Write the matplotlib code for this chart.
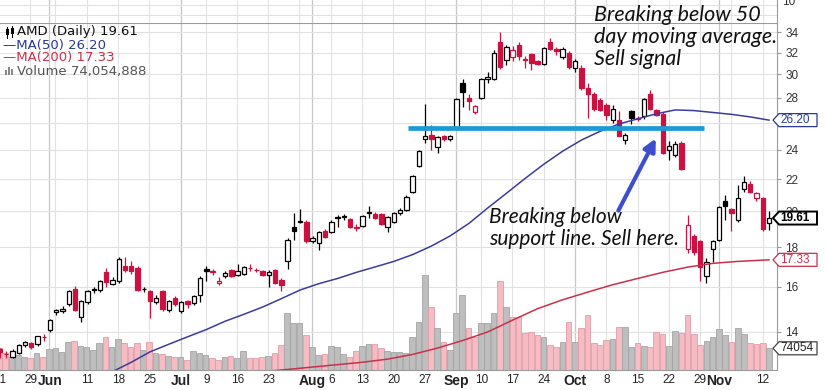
import numpy as np
import matplotlib
matplotlib.use('Agg')
import matplotlib.pyplot as plt
from matplotlib.patches import Polygon
from matplotlib.lines import Line2D
from matplotlib import font_manager

# daily bars, 2018-05-21 .. 2018-11-13 (index = trading day)
opens = [13.3, 13.12, 13.0, 13.15, 13.47, 13.55, 13.5, 13.8, 14.1, 14.85,
         14.9, 15.2, 15.9, 14.65, 15.3, 15.9, 15.85, 16.7, 16.15, 16.3,
         17.0, 17.0, 16.9, 15.9, 15.8, 15.3, 15.8, 14.95, 15.5, 14.9,
         15.35, 15.25, 15.6, 16.85, 16.75, 16.2, 16.5, 16.8, 16.55, 16.6,
         16.92, 16.82, 16.75, 16.55, 16.8, 16.35, 17.25, 19.1, 19.45, 19.4,
         18.3, 18.2, 18.9, 18.8, 19.65, 19.75, 19.55, 19.08, 19.15, 19.95,
         19.85, 19.85, 19.1, 19.4, 19.9, 20.1, 21.2, 22.9, 24.8, 25.1,
         24.2, 25.0, 24.75, 25.6, 29.2, 28.0, 26.8, 28.0, 29.6, 29.6,
         33.0, 31.3, 31.6, 32.7, 31.4, 31.9, 31.2, 30.9, 33.0, 32.3,
         31.6, 32.0, 30.6, 30.6, 28.8, 28.3, 27.8, 27.4, 26.2, 26.2,
         24.7, 26.9, 26.4, 26.5, 28.3, 27.0, 26.7, 24.0, 23.6, 24.5,
         17.9, 18.6, 18.3, 16.5, 17.9, 18.4, 20.6, 20.15, 19.5, 21.4,
         21.7, 20.8, 20.8, 19.3]
highs = [13.35, 13.25, 13.3, 13.5, 13.65, 13.6, 13.85, 13.9, 14.55, 15.0,
         15.1, 15.85, 16.05, 15.4, 15.85, 16.0, 16.35, 16.9, 16.45, 17.5,
         17.45, 17.25, 17.0, 16.0, 15.85, 15.6, 15.85, 15.4, 15.55, 15.35,
         15.4, 15.6, 16.5, 17.0, 16.85, 16.45, 16.75, 16.85, 17.1, 17.0,
         17.1, 16.9, 16.8, 16.8, 16.85, 16.4, 18.5, 19.9, 20.15, 19.5,
         18.6, 18.9, 19.0, 19.5, 19.8, 19.85, 19.6, 19.25, 19.8, 20.3,
         19.95, 19.9, 19.75, 19.95, 20.2, 21.0, 22.3, 24.0, 27.5, 25.8,
         25.0, 25.1, 25.1, 28.0, 29.6, 28.3, 27.4, 29.7, 30.2, 32.2,
         34.0, 32.7, 32.6, 33.0, 31.7, 32.0, 31.3, 32.5, 33.4, 32.5,
         32.5, 32.1, 31.4, 30.8, 29.2, 28.5, 28.0, 27.6, 27.4, 26.9,
         25.2, 27.0, 26.5, 28.0, 28.6, 27.1, 26.8, 24.6, 24.6, 24.6,
         19.8, 18.7, 18.4, 17.4, 18.4, 20.3, 21.0, 20.2, 21.6, 22.2,
         21.9, 21.2, 20.9, 20.0]
lows = [12.95, 12.95, 12.95, 13.1, 13.4, 13.3, 13.45, 13.65, 14.0, 14.7,
        14.8, 15.1, 14.9, 14.4, 15.2, 15.7, 15.75, 16.0, 16.1, 16.2,
        16.7, 16.6, 15.8, 15.75, 14.6, 15.2, 14.9, 14.85, 15.1, 14.8,
        15.05, 15.15, 15.3, 16.3, 16.55, 16.1, 16.4, 16.45, 16.5, 16.55,
        16.75, 16.7, 16.5, 16.0, 16.15, 15.8, 16.85, 18.4, 19.3, 18.2,
        18.2, 17.85, 18.5, 18.75, 19.1, 19.5, 19.05, 18.9, 19.1, 19.6,
        19.55, 19.2, 18.8, 19.35, 19.8, 20.0, 21.1, 22.8, 24.5, 24.0,
        23.8, 24.6, 24.6, 25.5, 27.2, 27.0, 26.7, 27.9, 29.2, 29.5,
        30.5, 30.8, 31.2, 31.3, 30.6, 30.4, 30.8, 30.8, 32.2, 31.8,
        31.4, 30.5, 30.2, 28.6, 26.4, 26.9, 26.9, 26.2, 26.0, 25.0,
        24.4, 25.9, 26.1, 26.3, 27.0, 26.5, 23.7, 23.3, 23.5, 22.6,
        17.7, 17.6, 16.3, 16.2, 17.2, 18.3, 19.5, 18.9, 19.4, 21.2,
        21.1, 20.6, 18.9, 18.95]
closes = [13.2, 13.1, 13.22, 13.47, 13.6, 13.38, 13.82, 13.78, 14.5, 14.93,
          14.98, 15.8, 14.95, 15.35, 15.8, 15.85, 16.3, 16.25, 16.35, 17.35,
          16.8, 16.75, 15.85, 15.88, 15.35, 15.5, 15.0, 15.35, 15.2, 15.3,
          15.2, 15.55, 16.4, 16.75, 16.7, 16.3, 16.68, 16.5, 16.75, 16.95,
          16.9, 16.8, 16.55, 16.7, 16.2, 16.1, 18.4, 18.9, 19.4, 18.3,
          18.5, 18.8, 18.55, 19.4, 19.6, 19.65, 19.1, 19.05, 19.75, 19.9,
          19.6, 19.25, 19.7, 19.9, 20.1, 20.9, 22.2, 23.9, 25.0, 24.8,
          24.9, 24.75, 25.0, 27.9, 28.5, 27.7, 27.3, 29.6, 29.8, 32.0,
          30.7, 32.5, 32.2, 31.7, 31.3, 31.0, 30.95, 32.4, 32.35, 32.1,
          32.3, 30.7, 31.2, 28.8, 28.3, 27.1, 27.0, 26.6, 27.1, 25.0,
          25.1, 26.4, 26.3, 27.9, 27.1, 26.6, 23.8, 24.3, 24.4, 22.7,
          19.2, 17.75, 16.95, 17.2, 18.3, 20.25, 20.3, 19.9, 20.8, 21.8,
          21.2, 21.1, 19.0, 19.61]
close_before = 13.35
# volume in millions of shares
volumes = [75, 58, 44, 51, 44, 41, 58, 44, 72, 75,
           61, 95, 99, 82, 78, 68, 92, 113, 78, 106,
           92, 78, 92, 68, 95, 58, 55, 48, 44, 44,
           34, 65, 58, 51, 41, 34, 44, 48, 41, 65,
           41, 41, 44, 48, 58, 85, 194, 160, 160, 119,
           78, 51, 55, 82, 78, 55, 44, 65, 82, 89,
           89, 75, 65, 61, 61, 58, 113, 164, 324, 215,
           143, 95, 68, 194, 256, 143, 113, 160, 160, 194,
           303, 215, 181, 181, 126, 130, 119, 113, 85, 78,
           95, 164, 95, 143, 188, 92, 85, 102, 106, 147,
           147, 78, 92, 82, 78, 130, 123, 82, 133, 126,
           188, 123, 85, 99, 113, 140, 119, 95, 143, 123,
           92, 89, 92, 74.054888]

ma50_idx = list(range(18, 124, 3))
ma50_val = [12.45, 12.8, 13.2, 13.5, 13.8, 14.1, 14.45, 14.75, 15.07, 15.45,
            15.85, 16.15, 16.4, 16.7, 16.97, 17.25, 17.6, 18.05, 18.6, 19.3,
            20.2, 21.1, 22.05, 23.0, 23.9, 24.7, 25.35, 25.9, 26.3, 26.7,
            27.0, 26.95, 26.8, 26.65, 26.45, 26.2]
ma200_idx = [42, 46, 50, 54, 58, 62, 66, 70, 74, 78, 82, 86, 90, 94, 98, 102,
             106, 110, 114, 118, 123]
ma200_val = [12.45, 12.53, 12.62, 12.71, 12.8, 12.92, 13.1, 13.35, 13.65, 14.0,
             14.5, 15.0, 15.4, 15.75, 16.1, 16.4, 16.7, 16.96, 17.15, 17.25, 17.33]

week_idx = [0, 5, 9, 14, 19, 24, 29, 33, 38, 43, 48, 53, 58, 63, 68, 73, 77, 82,
            87, 92, 97, 102, 107, 112, 117, 122]
month_idx = [8, 29, 50, 73, 92, 115]
tick_idx = [0, 5, 8, 14, 19, 24, 29, 33, 38, 43, 50, 53, 58, 63, 68, 73, 77, 82,
            87, 92, 97, 102, 107, 112, 115, 122]
tick_lab = ['21', '29', 'Jun', '11', '18', '25', 'Jul', '9', '16', '23', 'Aug', '6',
            '13', '20', '27', 'Sep', '10', '17', '24', 'Oct', '8', '15', '22', '29',
            'Nov', '12']
price_ticks = [14, 16, 18, 20, 22, 24, 26, 28, 30, 32, 34]

support_level = 25.6
support_span = (65.3, 112.6)

W, H = 826, 390
RED = '#cc1040'
BLUE_MA = '#3b3b9c'
RED_MA = '#c8304c'


def fx(x):
    return x / W


def fy(y):
    return 1 - y / H


ital = 'DejaVu Sans'
for fam in ['Lato', 'Open Sans', 'Noto Sans', 'Liberation Sans']:
    if any(f.name == fam and f.style == 'italic' for f in font_manager.fontManager.ttflist):
        ital = fam
        break

fig = plt.figure(figsize=(W / 100, H / 100), dpi=100)
fig.patch.set_facecolor('white')
rect = [0, fy(370), fx(777), (370 - 23) / H]

n = len(closes)
idx = np.arange(n)
prev = np.r_[close_before, closes[:-1]]
up = np.array(closes) >= prev
xlim = (0.16, 124.28)

# volume + grid (bottom layer)
axv = fig.add_axes(rect)
axv.set_xlim(*xlim)
vol_top = 1184
axv.set_ylim(0, vol_top)
axv.axis('off')

ax = fig.add_axes(rect)
ax.set_yscale('log')
ax.set_ylim(12.51, 34.92)
ax.set_xlim(*xlim)
ax.patch.set_visible(False)

for w in week_idx:
    axv.axvline(w, color='#e2e2e2', lw=0.8, zorder=0)
for m in month_idx:
    axv.axvline(m, color='#c8c8c8', lw=0.9, zorder=0)
for p in price_ticks:
    frac = ax.transAxes.inverted().transform(ax.transData.transform((1, p)))[1]
    axv.axhline(frac * vol_top, color='#e2e2e2', lw=0.8, zorder=0)

vcol = ['#bebebe' if u else '#f5bcc4' for u in up]
vedge = ['#a4a4a4' if u else '#e29ca8' for u in up]
axv.bar(idx, volumes, width=0.9, color=vcol, edgecolor=vedge, lw=0.6, zorder=2)

# candles
ccol = ['black' if u else RED for u in up]
ax.vlines(idx, lows, highs, colors=ccol, lw=0.9, zorder=3)
bottoms = np.minimum(opens, closes)
heights = np.abs(np.array(closes) - np.array(opens))
faces = ['white' if c >= o else col for o, c, col in zip(opens, closes, ccol)]
ax.bar(idx, heights, bottom=bottoms, width=0.7, color=faces, edgecolor=ccol,
       lw=0.9, zorder=4)

ax.plot(ma50_idx, ma50_val, color=BLUE_MA, lw=1.1, zorder=5)
ax.plot(ma200_idx, ma200_val, color=RED_MA, lw=1.1, zorder=5)

# support line + arrow
ax.plot(support_span, [support_level] * 2, color='#1b9ad6', lw=3.4,
        solid_capstyle='butt', zorder=6)
ax.annotate('', xy=(105.1, 25.0), xytext=(98.7, 19.9),
            arrowprops=dict(arrowstyle='-|>', color='#3d4fcf', lw=3.0,
                            mutation_scale=18), zorder=7)

ax.yaxis.tick_right()
ax.set_yticks(price_ticks)
ax.set_yticklabels(['' if p == 26 else str(p) for p in price_ticks])
ax.yaxis.set_minor_locator(matplotlib.ticker.NullLocator())
ax.yaxis.set_minor_formatter(matplotlib.ticker.NullFormatter())
ax.tick_params(axis='y', length=3, color='#999999', labelsize=8.5,
               labelcolor='#333333', pad=3)
ax.set_xticks(tick_idx)
ax.set_xticklabels(tick_lab)
ax.tick_params(axis='x', length=0, pad=3, labelsize=8.5, labelcolor='#222222')
for t in ax.get_xticklabels():
    t.set_fontfamily('Liberation Sans')
    if t.get_text().isalpha():
        t.set_fontweight('bold')
        t.set_fontsize(10)
for t in ax.get_yticklabels():
    t.set_fontfamily('Liberation Sans')
ax.spines['left'].set_visible(False)
for s in ['right', 'bottom', 'top']:
    ax.spines[s].set_color('#9a9a9a')
    ax.spines[s].set_linewidth(0.8)

# strip of the upper panel
axt = fig.add_axes([0, fy(23), fx(777), 23 / H])
axt.set_ylim(0, 23)
axt.set_xlim(*xlim)
for w in week_idx:
    axt.axvline(w, color='#e2e2e2', lw=0.8)
for m in month_idx:
    axt.axvline(m, color='#c8c8c8', lw=0.9)
axt.axhline(18, color='#e2e2e2', lw=0.8)
axt.axhline(8, color='#e2e2e2', lw=0.8)
axt.set_xticks([])
axt.set_yticks([])
for s in ['left', 'top', 'bottom']:
    axt.spines[s].set_visible(False)
axt.spines['right'].set_color('#9a9a9a')
fig.text(fx(782), fy(2), '10', fontsize=8.5, color='#333333', va='center',
         family='Liberation Sans')


# value tags on the right axis
def tag(axis, value, text, col, tcol, bold=False):
    yd = axis.transData.transform((1, value))[1]
    yc = H - yd
    pts = [(773, yc), (779, yc - 6.5), (817, yc - 6.5), (817, yc + 6.5), (779, yc + 6.5)]
    fig.add_artist(Polygon([(fx(a), fy(b)) for a, b in pts], closed=True,
                           facecolor='white', edgecolor=col,
                           lw=1.4 if bold else 0.9, transform=fig.transFigure))
    fig.text(fx(780), fy(yc), text, color=tcol, fontsize=8.5, va='center',
             ha='left', family='Liberation Sans',
             fontweight='bold' if bold else 'normal')


tag(ax, ma50_val[-1], '26.20', '#2b3990', '#2b3990')
tag(ax, closes[-1], '19.61', 'black', 'black', bold=True)
tag(ax, ma200_val[-1], '17.33', '#c8304c', '#c8304c')
tag(axv, volumes[-1], '74054', '#444444', '#222222')

# legend block
fig.add_artist(Line2D([fx(7), fx(7)], [fy(27), fy(38)], color='black', lw=0.8))
fig.add_artist(Line2D([fx(12), fx(12)], [fy(26), fy(37)], color='black', lw=0.8))
fig.add_artist(Polygon([(fx(5.5), fy(29)), (fx(8.5), fy(29)), (fx(8.5), fy(35)), (fx(5.5), fy(35))],
                       closed=True, facecolor='black', transform=fig.transFigure))
fig.add_artist(Polygon([(fx(10.5), fy(28)), (fx(13.5), fy(28)), (fx(13.5), fy(34)), (fx(10.5), fy(34))],
                       closed=True, facecolor='black', transform=fig.transFigure))
fig.text(fx(17), fy(32), 'AMD (Daily) 19.61', fontsize=9.5, color='#111111', va='center')
fig.text(fx(3), fy(45), '\u2014MA(50) 26.20', fontsize=9.5, color='#2b3990', va='center')
fig.text(fx(3), fy(58), '\u2014MA(200) 17.33', fontsize=9.5, color='#c8304c', va='center')
for k, hgt in enumerate([5, 8, 6]):
    fig.add_artist(Polygon([(fx(5 + 3 * k), fy(75)), (fx(7 + 3 * k), fy(75)),
                            (fx(7 + 3 * k), fy(75 - hgt)), (fx(5 + 3 * k), fy(75 - hgt))],
                           closed=True, facecolor='#888888', transform=fig.transFigure))
fig.text(fx(17), fy(71), 'Volume 74,054,888', fontsize=9.5, color='#555555', va='center')

# annotations
fig.text(fx(594), fy(5), 'Breaking below 50\nday moving average.\nSell signal',
         fontsize=15.5, style='italic', family=ital, va='top', ha='left',
         linespacing=1.12, color='#111111')
fig.text(fx(489), fy(207), 'Breaking below\nsupport line. Sell here.',
         fontsize=15, style='italic', family=ital, va='top', ha='left',
         linespacing=1.12, color='#111111')

fig.savefig('out.png', dpi=100, facecolor='white')
